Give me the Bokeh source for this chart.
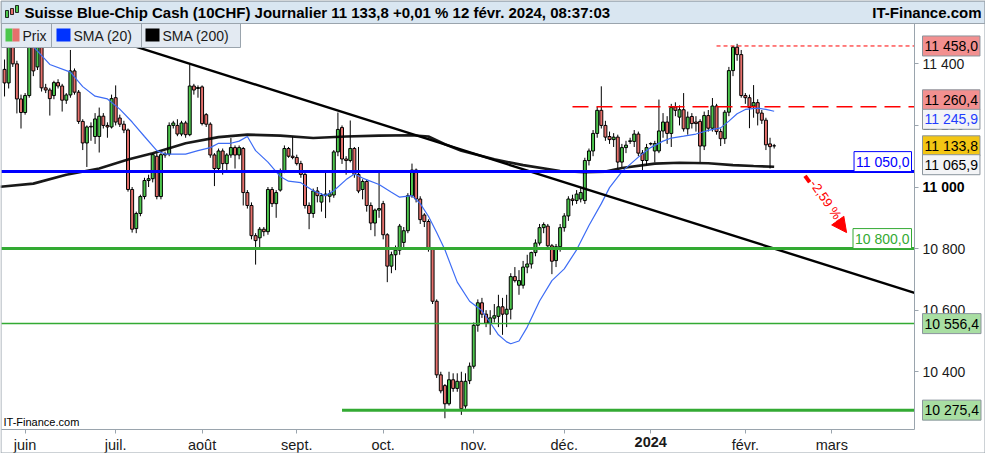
import numpy as np
import pandas as pd
from bokeh.plotting import figure
from bokeh.models import (ColumnDataSource, LinearAxis, FixedTicker, Range1d,
                          Label, BoxAnnotation, Arrow, NormalHead)
from bokeh.embed import file_html
from bokeh.resources import INLINE

# ------------------------------------------------------------------ data
title_text = "Suisse Blue-Chip Cash (10CHF) Journalier 11 133,8 +0,01 % 12 févr. 2024, 08:37:03"
site_text = "IT-Finance.com"
legend_labels = ["Prix", "SMA (20)", "SMA (200)"]

trade_dates = pd.bdate_range("2023-05-25", "2024-02-12")   # daily candles

opens = [11382, 11338, 11476, 11400, 11286,
         11242, 11297, 11455, 11390, 11455, 11322, 11315, 11297, 11339, 11328,
         11282, 11299, 11377, 11308, 11213, 11143, 11197, 11164, 11164, 11230,
         11200, 11195, 11290, 11224, 11204, 11185, 10992, 10865, 10914, 10969,
         11021, 11027, 11100, 10969, 11104, 11107, 11200, 11200, 11172, 11208,
         11170, 11328, 11320, 11325, 11235, 11204, 11104, 11060, 11117, 11076,
         11104, 11128, 11104, 11125, 10982, 10940, 10842, 10835, 10863, 10855,
         10992, 10946, 10990, 11050, 11125, 11100, 11096, 11076, 11041, 10940,
         10914, 10987, 10951, 10972, 10970, 10974, 11114, 11193, 11091, 11086,
         11125, 11041, 10992, 11018, 10940, 10883, 10925, 10946, 10845, 10743,
         10780, 10795, 10820, 10858, 10972, 11055, 10961, 10909, 10888, 10800,
         10629, 10390, 10355, 10296, 10374, 10346, 10369, 10289, 10371, 10418,
         10551, 10624, 10587, 10558, 10574, 10580, 10611, 10587, 10603, 10709,
         10681, 10681, 10740, 10750, 10787, 10818, 10868, 10873, 10809, 10761,
         10806, 10868, 10906, 10961, 10956, 10961, 10956, 11086, 11117, 11174,
         11249, 11200, 11164, 11154, 11162, 11081, 11128, 11148, 11148, 11172,
         11110, 11086, 11140, 11117, 11117, 11182, 11211, 11174, 11260, 11227,
         11251, 11189, 11229, 11211, 11213, 11133, 11232, 11191, 11263, 11180,
         11157, 11243, 11378, 11454, 11430, 11297, 11290, 11263, 11274, 11240,
         11217, 11140, 11133.6]
highs = [11414, 11480, 11500, 11410, 11300,
         11305, 11470, 11470, 11500, 11470, 11335, 11322, 11345, 11350, 11335,
         11305, 11445, 11385, 11315, 11220, 11200, 11210, 11240, 11258, 11240,
         11210, 11300, 11330, 11235, 11215, 11190, 11000, 10920, 10975, 11030,
         11040, 11110, 11110, 11110, 11115, 11210, 11215, 11220, 11215, 11215,
         11398, 11335, 11330, 11330, 11240, 11210, 11110, 11125, 11125, 11110,
         11159, 11135, 11135, 11130, 10990, 10950, 10850, 10870, 10870, 11000,
         11000, 10990, 11060, 11135, 11130, 11164, 11105, 11085, 11050, 10950,
         10995, 11000, 10980, 11055, 10990, 11120, 11242, 11200, 11100, 11216,
         11130, 11130, 11025, 11025, 10950, 10930, 11055, 10955, 10850, 10790,
         10810, 10880, 10870, 10980, 11076, 11060, 10970, 10915, 10895, 10805,
         10635, 10400, 10360, 10400, 10395, 10395, 10400, 10395, 10430, 10560,
         10635, 10640, 10600, 10600, 10620, 10650, 10640, 10650, 10720, 10740,
         10730, 10760, 10780, 10790, 10830, 10880, 10885, 10880, 10815, 10815,
         10880, 10915, 10970, 10975, 10990, 11000, 11095, 11125, 11185, 11260,
         11327, 11215, 11180, 11175, 11170, 11140, 11150, 11160, 11185, 11180,
         11120, 11140, 11145, 11150, 11284, 11240, 11230, 11270, 11275, 11265,
         11305, 11245, 11240, 11230, 11220, 11245, 11250, 11289, 11270, 11190,
         11250, 11390, 11458, 11465, 11445, 11305, 11300, 11331, 11285, 11250,
         11225, 11160, 11140]
lows = [11294, 11320, 11390, 11239, 11190,
        11235, 11290, 11360, 11380, 11310, 11305, 11232, 11285, 11320, 11245,
        11270, 11290, 11300, 11205, 11120, 11065, 11150, 11140, 11112, 11190,
        11160, 11190, 11200, 11195, 11175, 10985, 10852, 10850, 10905, 10960,
        11000, 11015, 10960, 10960, 11095, 11100, 11190, 11165, 11165, 11160,
        11165, 11300, 11290, 11200, 11195, 11095, 11003, 11050, 11040, 11050,
        11095, 11060, 11090, 10940, 10930, 10830, 10748, 10800, 10840, 10845,
        10935, 10900, 10985, 11045, 11095, 11090, 11070, 11030, 10930, 10863,
        10900, 10950, 10920, 10899, 10950, 10965, 11100, 11075, 11040, 11080,
        11030, 10980, 10960, 10920, 10860, 10840, 10900, 10830, 10691, 10720,
        10730, 10780, 10800, 10850, 10965, 10950, 10880, 10870, 10790, 10620,
        10380, 10330, 10249, 10290, 10335, 10335, 10260, 10280, 10360, 10410,
        10530, 10575, 10545, 10520, 10560, 10545, 10520, 10545, 10570, 10690,
        10650, 10670, 10720, 10735, 10775, 10810, 10850, 10800, 10717, 10740,
        10790, 10855, 10890, 10940, 10945, 10950, 10945, 11070, 11100, 11160,
        11190, 11150, 11140, 11130, 11060, 11065, 11110, 11140, 11130, 11100,
        11055, 11070, 11135, 11080, 11110, 11160, 11140, 11130, 11230, 11200,
        11180, 11170, 11190, 11180, 11081, 11120, 11180, 11180, 11170, 11133,
        11140, 11230, 11360, 11410, 11290, 11270, 11191, 11225, 11200, 11205,
        11120, 11060, 11125]
closes = [11338, 11455, 11400, 11286, 11242,
          11297, 11455, 11377, 11470, 11322, 11315, 11287, 11339, 11328, 11282,
          11299, 11377, 11308, 11213, 11143, 11195, 11195, 11221, 11230, 11200,
          11195, 11287, 11211, 11204, 11185, 10992, 10863, 10914, 10969, 11021,
          11027, 11105, 10969, 11105, 11107, 11200, 11208, 11172, 11208, 11170,
          11328, 11315, 11323, 11206, 11204, 11104, 11060, 11117, 11076, 11104,
          11128, 11104, 11128, 10982, 10940, 10842, 10826, 10863, 10855, 10992,
          10946, 10982, 11050, 11125, 11100, 11096, 11076, 11041, 10940, 10914,
          10987, 10972, 10972, 10977, 10978, 11114, 11187, 11091, 11086, 11125,
          11041, 10987, 11018, 10940, 10883, 10925, 10930, 10845, 10743, 10780,
          10795, 10873, 10858, 10972, 11055, 10961, 10894, 10888, 10800, 10629,
          10390, 10338, 10296, 10374, 10346, 10369, 10280, 10369, 10418, 10551,
          10624, 10587, 10558, 10575, 10582, 10611, 10587, 10603, 10709, 10696,
          10696, 10740, 10750, 10787, 10818, 10868, 10878, 10809, 10759, 10806,
          10868, 10906, 10961, 10956, 10977, 10982, 11086, 11117, 11174, 11249,
          11200, 11162, 11154, 11162, 11081, 11128, 11136, 11150, 11172, 11110,
          11086, 11128, 11141, 11141, 11182, 11211, 11174, 11258, 11249, 11251,
          11189, 11227, 11206, 11206, 11133, 11232, 11191, 11263, 11180, 11157,
          11243, 11378, 11454, 11430, 11297, 11290, 11258, 11274, 11240, 11217,
          11137, 11131, 11133.8]

# moving averages (trading-day number from 1 June 2023, value)
sma20_day = [2, 6, 11, 14, 17, 20, 23, 26, 29, 32, 34, 39, 42, 45, 47, 50, 52, 54,
             56, 59, 62, 64, 67, 70, 73, 75, 78, 80, 82, 86, 89, 91, 94, 96, 98, 100,
             102, 105, 108, 111, 113, 115, 117, 118, 120, 122, 125, 128, 131, 134,
             137, 140, 142, 145, 149, 152, 155, 157, 160, 163, 166, 169, 171, 173,
             175, 178, 180, 182]
sma20_val = [11456, 11398, 11373, 11326, 11295, 11286, 11253, 11211, 11164, 11118,
             11107, 11107, 11118, 11128, 11142, 11142, 11149, 11164, 11118, 11081,
             11034, 11019, 11014, 10988, 10972, 10988, 11024, 11042, 11029, 11008,
             10983, 10967, 10972, 10946, 10905, 10852, 10796, 10691, 10629, 10598,
             10560, 10520, 10497, 10491, 10500, 10545, 10630, 10696, 10734, 10796,
             10875, 10946, 10998, 11050, 11097, 11128, 11149, 11159, 11165, 11172,
             11184, 11192, 11214, 11238, 11252, 11256, 11252, 11245.9]
sma200_day = [-6, 2, 10, 18, 25, 31, 39, 47, 54, 62, 70, 78, 86, 94, 98, 102, 106,
              114, 121, 130, 136, 141, 145, 153, 159, 166, 172, 177, 182]
sma200_val = [11001, 11011, 11040, 11060, 11089, 11110, 11142, 11162, 11170, 11167,
              11159, 11164, 11167, 11168, 11164, 11139, 11118, 11090, 11071, 11052,
              11048, 11050, 11062, 11076, 11079, 11077, 11071, 11068, 11065.9]
trend_day = [14, 216.1]
trend_val = [11510, 10656]

month_starts = ["2023-06-01", "2023-07-01", "2023-08-01", "2023-09-01", "2023-10-01",
                "2023-11-01", "2023-12-01", "2024-01-01", "2024-02-01", "2024-03-01"]
month_labels = ["juin", "juil.", "août", "sept.", "oct.", "nov.", "déc.", "2024",
                "févr.", "mars"]
price_ticks = [10400, 10600, 10800, 11000, 11200, 11400]

high_level = 11458.0
resist_level = 11260.4
sma20_last = 11245.9
last_close = 11133.8
sma200_last = 11065.9
pivot_level = 11050.0
target_level = 10800.0
support1 = 10556.4
support2 = 10275.4
change_text = "-2,59 %"
high_from_day = 168
resist_from_day = 133
support2_from_day = 77
arrow_day = [189.5, 199.6]
arrow_val = [11036, 10852]

# ------------------------------------------------------------------ layout
FONT = "Liberation Sans"
GREEN = "#4dc74d"
RED = "#e6706c"
GRID = "#9aa4ad"

W, H = 985, 453                       # whole picture
PX0, PX1, PY0, PY1 = 1, 914, 23, 429  # price pane in canvas pixels
D0, D1 = -5.74, 216.1                 # visible trading days
V0, V1 = 10212.5, 11531.0             # visible prices
KX = (PX1 - PX0) / (D1 - D0)
KY = (PY1 - PY0) / (V1 - V0)
XS, XE = D0 - PX0 / KX, D1 + (W - PX1) / KX
YS, YE = V0 - (H - PY1) / KY, V1 + PY0 / KY


def cx(px):  # canvas pixel -> data x (decorations only)
    return XS + px / KX


def cy(py):  # canvas pixel -> data y (decorations only)
    return YE - py / KY


def fmt(v, dec=1):
    s = f"{v:,.{dec}f}"
    return s.replace(",", " ").replace(".", ",")


origin = np.datetime64("2023-06-01")
day = np.busday_count(origin, trade_dates.values.astype("datetime64[D]"))
tick_days = [int(d) for d in np.busday_count(origin, np.array(month_starts, dtype="datetime64[D]"))]

tops = [max(o, c) for o, c in zip(opens, closes)]
bots = [min(o, c) for o, c in zip(opens, closes)]
cols = [GREEN if c >= o else RED for o, c in zip(opens, closes)]
src = ColumnDataSource(dict(day=day, high=highs, low=lows, top=tops, bottom=bots, color=cols))

p = figure(frame_width=W, frame_height=H, x_range=Range1d(XS, XE), y_range=Range1d(YS, YE),
           output_backend="svg", toolbar_location=None,
           x_axis_location=None, y_axis_location=None, min_border=0)
p.background_fill_color = "white"
p.border_fill_color = "white"
p.outline_line_color = None
p.xgrid.visible = False
p.ygrid.visible = False

# axes (drawn at the edges of the price pane)
yaxis = LinearAxis(ticker=FixedTicker(ticks=price_ticks), fixed_location=D1, bounds=(V0, V1),
                   major_label_overrides={t: (" " if t == 11000 else fmt(t, 0)) for t in price_ticks})
xaxis = LinearAxis(ticker=FixedTicker(ticks=tick_days), fixed_location=V0, bounds=(D0, D1),
                   major_label_overrides={d: (" " if lab == "2024" else lab)
                                          for d, lab in zip(tick_days, month_labels)})
for ax in (xaxis, yaxis):
    ax.axis_line_color = GRID
    ax.major_tick_line_color = GRID
    ax.minor_tick_line_color = None
    ax.major_tick_in = 0
    ax.major_tick_out = 4
    ax.major_label_text_font = FONT
    ax.major_label_text_color = "#1a1a1a"
yaxis.major_label_text_font_size = "14px"
yaxis.major_label_standoff = 4
xaxis.major_label_text_font_size = "14.5px"
xaxis.major_label_standoff = 3
p.add_layout(yaxis, "right")
p.add_layout(xaxis, "below")

# candles
p.segment(x0="day", y0="low", x1="day", y1="high", source=src, line_color="black", line_width=1)
p.vbar(x="day", width=0.72, top="top", bottom="bottom", source=src,
       fill_color="color", line_color="black", line_width=1)

# indicators
p.line(sma200_day, sma200_val, line_color="black", line_width=2.6, line_alpha=0.9)
p.line(sma20_day, sma20_val, line_color="#3d6cf5", line_width=1.2)
p.line(trend_day, trend_val, line_color="black", line_width=2.4)

# horizontal levels
p.segment(x0=[high_from_day], x1=[D1], y0=[high_level], y1=[high_level],
          line_color="#ff0000", line_width=1, line_dash="4 3")
p.segment(x0=[resist_from_day], x1=[D1], y0=[resist_level], y1=[resist_level],
          line_color="#ff0000", line_width=1.5, line_dash="16 8")
p.segment(x0=[support2_from_day], x1=[D1], y0=[support2], y1=[support2],
          line_color="#33aa33", line_width=3)
p.segment(x0=[D0], x1=[D1], y0=[support1], y1=[support1], line_color="#33aa33", line_width=1.5)
p.segment(x0=[D0], x1=[D1], y0=[target_level], y1=[target_level], line_color="#33aa33", line_width=3)
p.segment(x0=[D0], x1=[D1], y0=[pivot_level], y1=[pivot_level], line_color="#0000ff", line_width=3)

# measured move arrow
p.add_layout(Arrow(end=NormalHead(size=15, fill_color="red", line_color="red"),
                   x_start=arrow_day[0], y_start=arrow_val[0],
                   x_end=arrow_day[1], y_end=arrow_val[1],
                   line_color="red", line_width=4))
p.add_layout(Label(x=(arrow_day[0] + arrow_day[1]) / 2, y=(arrow_val[0] + arrow_val[1]) / 2 + 15,
                   text=change_text, angle=-0.96, text_align="center", text_baseline="middle",
                   text_font=FONT, text_font_size="13px", text_color="red",
                   background_fill_color="white", padding=1))

# in-plot level boxes
for lvl, col in ((pivot_level, "#0000ff"), (target_level, "#33aa33")):
    p.add_layout(Label(x=D1, y=lvl, x_offset=-3, y_offset=10, text=fmt(lvl),
                       text_align="right", text_baseline="middle", text_font=FONT,
                       text_font_size="14px", text_color=col, background_fill_color="white",
                       border_line_color=col, padding=2))

# watermark
p.add_layout(Label(x=D0, y=V0, x_offset=2, y_offset=2, text=site_text, text_align="left",
                   text_baseline="bottom", text_font=FONT, text_font_size="11px",
                   text_color="black"))

# right-hand value badges
badges = [
    (high_level, "#f29090", "black", 0),
    (resist_level, "#f29090", "black", 7),
    (sma20_last, "#f3f4f6", "#1f3dff", -8),
    (last_close, "#f3c614", "black", 0),
    (sma200_last, "#f3f4f6", "black", 2),
    (support1, "#a8dea2", "black", 0),
    (support2, "#a8dea2", "black", 0),
]
p.add_layout(Label(x=D1, y=11000, x_offset=8, text=fmt(11000, 0), text_align="left",
                   text_baseline="middle", text_font=FONT, text_font_size="14px",
                   text_font_style="bold", text_color="black"))
for val, bg, fg, yo in badges:
    p.add_layout(Label(x=D1, y=val, x_offset=8, y_offset=yo, text=fmt(val), text_align="left",
                       text_baseline="middle", text_font=FONT, text_font_size="14px",
                       text_color=fg, background_fill_color=bg, border_line_color="#8a949c",
                       padding=2))

# bold year label on the time axis
p.add_layout(Label(x=tick_days[month_labels.index("2024")], y=V0, y_offset=-7, text="2024",
                   text_align="center", text_baseline="top", text_font=FONT,
                   text_font_size="14.5px", text_font_style="bold", text_color="#1a1a1a"))

# legend boxes (top-left, over the candles)
legend_boxes = [(1, 51), (51, 141), (141, 240)]
for (l, r) in legend_boxes:
    p.add_layout(BoxAnnotation(left=cx(l), right=cx(r), top=cy(23), bottom=cy(47),
                               fill_color="#e3eaf2", fill_alpha=1, line_color=GRID,
                               line_alpha=1, line_width=1))
p.add_layout(BoxAnnotation(left=cx(5), right=cx(12), top=cy(28), bottom=cy(41),
                           fill_color=GREEN, fill_alpha=1, line_alpha=0))
p.add_layout(BoxAnnotation(left=cx(12), right=cx(19), top=cy(28), bottom=cy(41),
                           fill_color=RED, fill_alpha=1, line_alpha=0))
p.add_layout(BoxAnnotation(left=cx(56), right=cx(70), top=cy(28), bottom=cy(41),
                           fill_color="#0033ff", fill_alpha=1, line_alpha=0))
p.add_layout(BoxAnnotation(left=cx(145), right=cx(159), top=cy(28), bottom=cy(41),
                           fill_color="black", fill_alpha=1, line_alpha=0))
for px, txt in zip((22, 73, 162), legend_labels):
    p.add_layout(Label(x=cx(px), y=cy(35), text=txt, text_align="left", text_baseline="middle",
                       text_font=FONT, text_font_size="14px", text_color="#1a1a1a"))

# title bar
p.add_layout(BoxAnnotation(left=cx(0.5), right=cx(984.5), top=cy(0.5), bottom=cy(23),
                           fill_color="#d9e6f1", fill_alpha=1, line_color=GRID,
                           line_alpha=1, line_width=1))
for (l, r, t, b, c) in ((5, 8, 10, 17, GREEN), (10, 13, 8, 14, RED), (15, 18, 5, 12, GREEN)):
    p.add_layout(BoxAnnotation(left=cx(l), right=cx(r), top=cy(t), bottom=cy(b),
                               fill_color=c, fill_alpha=1, line_color="black", line_alpha=1,
                               line_width=0.8))
p.add_layout(Label(x=cx(24), y=cy(11.5), text=title_text, text_align="left",
                   text_baseline="middle", text_font=FONT, text_font_size="15px",
                   text_font_style="bold", text_color="black"))
p.add_layout(Label(x=cx(981), y=cy(11.5), text=site_text, text_align="right",
                   text_baseline="middle", text_font=FONT, text_font_size="15px",
                   text_font_style="bold", text_color="black"))

# outer frame
p.add_layout(BoxAnnotation(left=cx(0.5), right=cx(984.5), top=cy(0.5), bottom=cy(452.5),
                           fill_alpha=0, line_color=GRID, line_alpha=1, line_width=1))

open("out.html", "w").write(file_html(p, INLINE))
